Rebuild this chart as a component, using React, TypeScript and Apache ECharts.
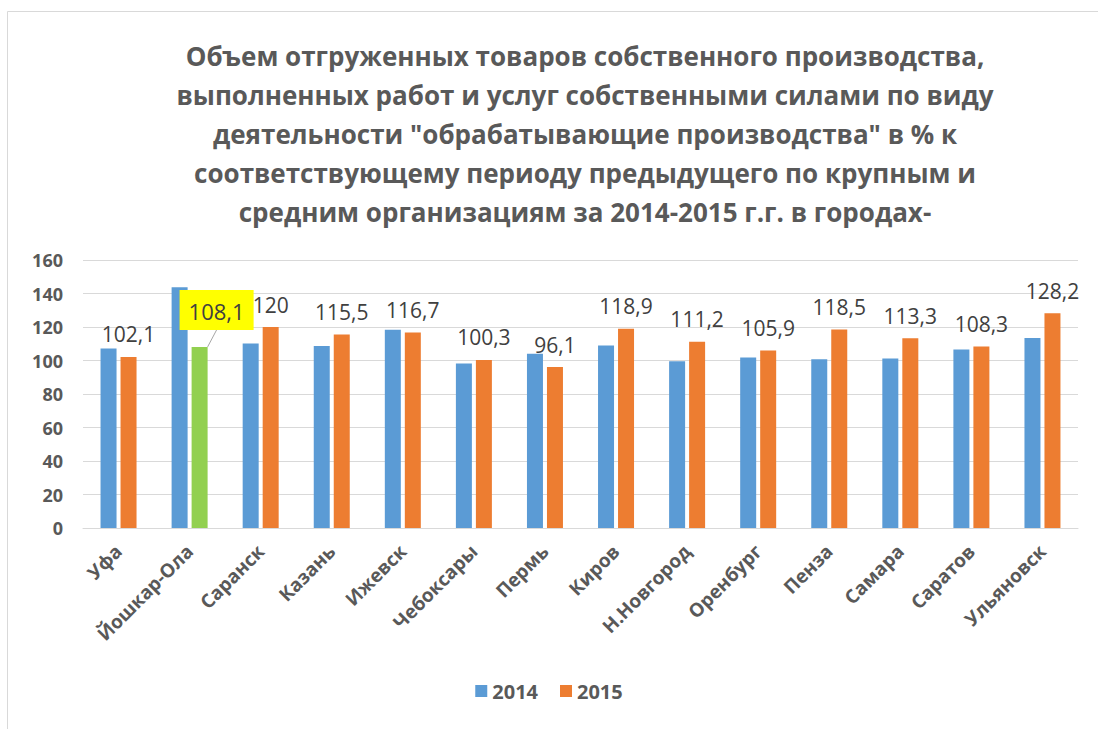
import React, { useEffect, useRef } from "react";
import * as echarts from "echarts";

const titleLines = [
  "Объем отгруженных товаров собственного производства,",
  "выполненных работ и услуг собственными силами по виду",
  "деятельности \"обрабатывающие производства\" в % к",
  "соответствующему периоду предыдущего по крупным и",
  "средним организациям за 2014-2015 г.г. в городах-",
];

const cities = [
  "Уфа",
  "Йошкар-Ола",
  "Саранск",
  "Казань",
  "Ижевск",
  "Чебоксары",
  "Пермь",
  "Киров",
  "Н.Новгород",
  "Оренбург",
  "Пенза",
  "Самара",
  "Саратов",
  "Ульяновск",
];

const values2014 = [107.2, 143.7, 110.2, 108.6, 118.4, 98.2, 104.0, 109.0, 99.6, 101.8, 100.8, 101.2, 106.6, 113.4];
const values2015 = [102.1, 108.1, 120, 115.5, 116.7, 100.3, 96.1, 118.9, 111.2, 105.9, 118.5, 113.3, 108.3, 128.2];

const highlightIndex = 1;

export default function App() {
  const ref = useRef<HTMLDivElement>(null);
  useEffect(() => {
    if (!ref.current) return;
    const chart = echarts.init(ref.current, undefined, { renderer: "svg" });
    const font = "'Open Sans', 'Noto Sans', sans-serif";
    const data2015 = values2015.map((v, i) =>
      i === highlightIndex
        ? {
            value: v,
            itemStyle: { color: "#92D050" },
            label: {
              backgroundColor: "#FFFF00",
              padding: [10, 9, 8, 9],
              fontSize: 22,
            },
            labelLine: { show: true, lineStyle: { color: "#A6A6A6", width: 1 } },
          }
        : { value: v }
    );
    chart.setOption({
      animation: false,
      backgroundColor: "#ffffff",
      textStyle: { fontFamily: font },
      graphic: [
        {
          type: "rect",
          shape: { x: 7.5, y: 11.5, width: 1200, height: 800 },
          style: { fill: "none", stroke: "#D9D9D9", lineWidth: 1 },
          silent: true,
          z: -10,
        },
      ],
      title: {
        text: titleLines.join("\n"),
        left: 580,
        top: 31,
        textAlign: "center",
        textStyle: {
          fontFamily: font,
          fontSize: 26,
          fontWeight: "bold",
          color: "#595959",
          lineHeight: 39,
        },
      },
      legend: {
        bottom: 23,
        left: "center",
        icon: "rect",
        itemWidth: 12,
        itemHeight: 12,
        itemGap: 22,
        textStyle: { fontFamily: font, fontSize: 20, fontWeight: "bold", color: "#595959" },
        data: ["2014", "2015"],
      },
      grid: { left: 83, right: 20, top: 260, bottom: 201, containLabel: false },
      xAxis: {
        type: "category",
        data: cities,
        axisLine: { lineStyle: { color: "#D9D9D9", width: 1 } },
        axisTick: { show: false },
        axisLabel: {
          rotate: 45,
          interval: 0,
          margin: 20,
          fontFamily: font,
          fontSize: 19,
          fontWeight: "bold",
          color: "#595959",
        },
      },
      yAxis: {
        type: "value",
        min: 0,
        max: 160,
        interval: 20,
        axisLine: { show: false },
        axisTick: { show: false },
        splitLine: { lineStyle: { color: "#D9D9D9", width: 1 } },
        axisLabel: {
          margin: 20,
          fontFamily: font,
          fontSize: 18,
          fontWeight: "bold",
          color: "#595959",
        },
      },
      series: [
        {
          name: "2014",
          type: "bar",
          data: values2014,
          barWidth: 16,
          barGap: "25%",
          itemStyle: { color: "#5B9BD5" },
        },
        {
          name: "2015",
          type: "bar",
          data: data2015,
          barWidth: 16,
          itemStyle: { color: "#ED7D31" },
          label: {
            show: true,
            position: "top",
            distance: 12,
            fontFamily: font,
            fontSize: 21,
            color: "#404040",
            formatter: (p: any) => String(p.value).replace(".", ","),
          },
          labelLayout: (p: any) =>
            p.dataIndex === highlightIndex ? { dx: 17, dy: -5 } : {},
        },
      ],
    });
    return () => chart.dispose();
  }, []);
  return (
    <div
      ref={ref}
      style={{ position: "absolute", left: 0, top: 0, width: 1098, height: 729 }}
    />
  );
}
